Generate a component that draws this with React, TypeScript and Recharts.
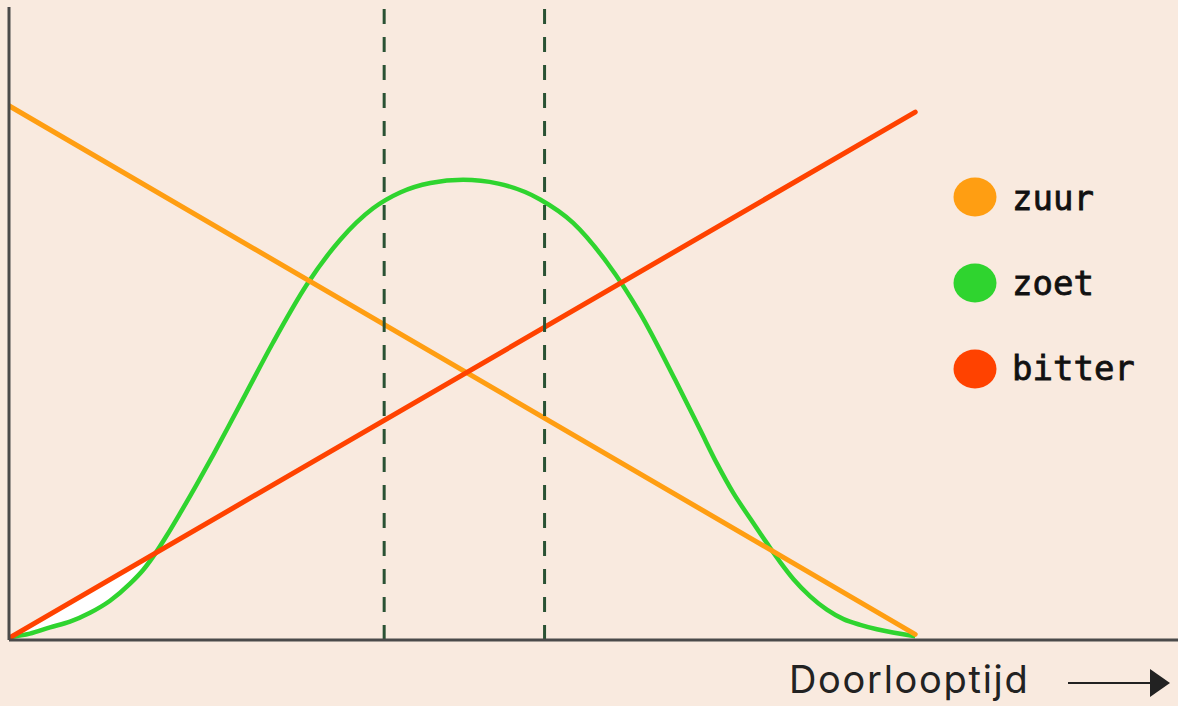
import React from "react";
import { ComposedChart, Line, Area, XAxis, YAxis, ReferenceLine } from "recharts";

// x in time units (0..100 = span of the curves), y in intensity (0..100)
const zuurX = [0, 100];
const zuurY = [84.4, 0.9];
const bitterX = [0, 100];
const bitterY = [0.3, 83.4];
const zoetX = [0, 2.3, 4.53, 6.73, 8.94, 11.15, 13.36, 14.82, 16.3, 17.41, 18.87, 20.72, 22.55, 24.39, 26.24, 29.14, 32.89, 36.53, 40.18, 43.16, 46.5, 50.11, 54.0, 58.61, 62.25, 66.0, 69.65, 73.51, 76.27, 78.11, 79.94, 81.79, 83.63, 85.1, 86.57, 88.41, 90.25, 92.09, 93.93, 95.77, 100];
const zoetY = [0.4, 1.0, 2.0, 2.9, 4.3, 6.2, 8.9, 11.1, 14.0, 16.5, 20.0, 24.6, 29.3, 34.2, 39.2, 47.0, 56.2, 63.2, 68.2, 70.7, 72.2, 72.7, 72.1, 69.6, 65.9, 59.6, 51.6, 41.1, 33.2, 27.9, 23.2, 19.2, 15.3, 12.3, 9.6, 6.9, 4.8, 3.3, 2.4, 1.7, 0.6];
// white gap between bitter (top) and zoet (bottom) at the start
const gapX = [0, 2.3, 4.53, 6.73, 8.94, 11.15, 13.36, 14.82, 16.2];
const gapLow = [0.4, 1.0, 2.0, 2.9, 4.3, 6.2, 8.9, 11.1, 13.75];
const gapHigh = [0.4, 2.2, 4.1, 5.9, 7.7, 9.6, 11.4, 12.6, 13.75];
const markers = [41.4, 59.1];
const legendLabels = ["zuur", "zoet", "bitter"];
const legendColors = ["#FF9E12", "#2FD42F", "#FF4200"];
const xLabel = "Doorlooptijd";

const zuurData = zuurX.map((x, i) => ({ x, v: zuurY[i] }));
const bitterData = bitterX.map((x, i) => ({ x, v: bitterY[i] }));
const zoetData = zoetX.map((x, i) => ({ x, v: zoetY[i] }));
const gapData = gapX.map((x, i) => ({ x, r: [gapLow[i], gapHigh[i]] }));

const BG = "#F9EADF";

export default function App() {
  return (
    <div style={{ position: "absolute", left: 0, top: 0, width: 1178, height: 706, background: BG, overflow: "hidden" }}>
      <ComposedChart width={1178} height={706} margin={{ top: 7, right: 0, left: 8, bottom: 65 }}>
        <XAxis
          type="number"
          dataKey="x"
          domain={[0, 129]}
          allowDataOverflow
          height={1}
          tick={false}
          tickLine={false}
          axisLine={{ stroke: "#4A4A4A", strokeWidth: 3 }}
        />
        <YAxis
          type="number"
          domain={[0, 100]}
          allowDataOverflow
          width={1}
          tick={false}
          tickLine={false}
          axisLine={{ stroke: "#4A4A4A", strokeWidth: 3 }}
        />
        <Area
          data={gapData}
          dataKey="r"
          type="monotone"
          stroke="none"
          fill="#FFFFFF"
          fillOpacity={1}
          isAnimationActive={false}
          legendType="none"
        />
        <Line
          data={zoetData}
          dataKey="v"
          name="zoet"
          type="monotone"
          stroke="#2FD42F"
          strokeWidth={4.5}
          dot={false}
          isAnimationActive={false}
        />
        <Line
          data={zuurData}
          dataKey="v"
          name="zuur"
          type="linear"
          stroke="#FF9E12"
          strokeWidth={5}
          strokeLinecap="round"
          dot={false}
          isAnimationActive={false}
        />
        <Line
          data={bitterData}
          dataKey="v"
          name="bitter"
          type="linear"
          stroke="#FF4200"
          strokeWidth={5}
          strokeLinecap="round"
          dot={false}
          isAnimationActive={false}
        />
        {markers.map((m) => (
          <ReferenceLine key={m} x={m} stroke="#2A5234" strokeWidth={3} strokeDasharray="15 13" />
        ))}
      </ComposedChart>
      <svg width={1178} height={706} style={{ position: "absolute", left: 0, top: 0, pointerEvents: "none" }}>
        {legendLabels.map((l, i) => (
          <g key={l}>
            <ellipse cx={975} cy={197 + i * 86} rx={21.5} ry={19.5} fill={legendColors[i]} />
            <text
              x={1012}
              y={210 + i * 85}
              fontFamily="DejaVu Sans Mono"
              fontSize={34}
              fill="#111"
              stroke="#111"
              strokeWidth={0.8}
            >
              {l}
            </text>
          </g>
        ))}
        <text x={789} y={693} fontFamily="Inter" fontSize={38} letterSpacing={1.7} fill="#222">
          {xLabel}
        </text>
        <line x1={1068} y1={683} x2={1152} y2={683} stroke="#222" strokeWidth={2} />
        <polygon points="1150,669 1170,683 1150,697" fill="#222" />
      </svg>
    </div>
  );
}
